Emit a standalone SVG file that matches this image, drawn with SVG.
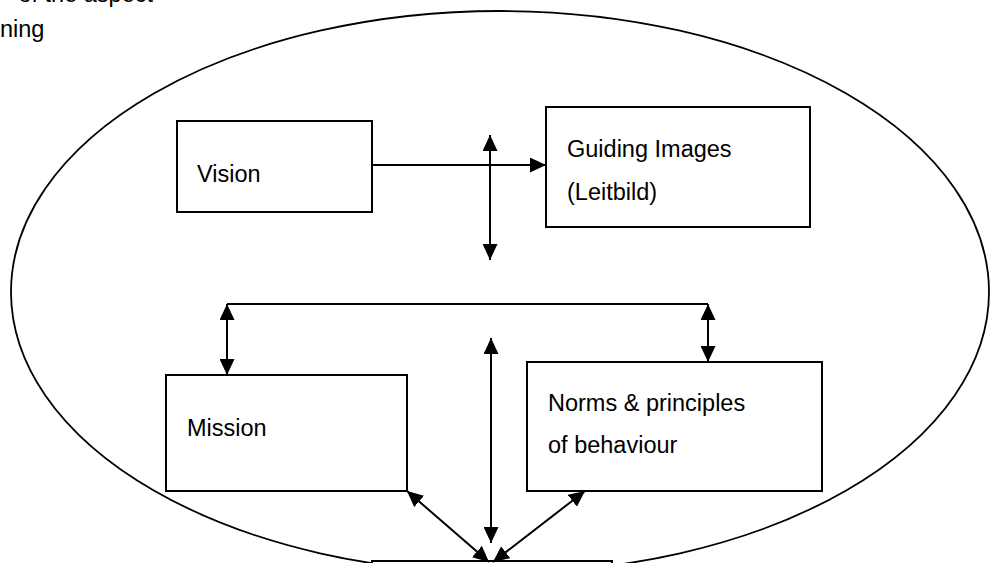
<svg xmlns="http://www.w3.org/2000/svg" width="990" height="563" viewBox="0 0 990 563">
  <defs>
    <style>
      .box { fill: #ffffff; stroke: #000000; stroke-width: 2; }
      .lbl { font-family: "Liberation Sans", Arial, sans-serif; font-size: 23.5px; fill: #000000; }
      .con { fill: none; stroke: #000000; stroke-width: 2; }
    </style>
    <marker id="ah" viewBox="0 0 16 15" refX="16" refY="7.5" markerWidth="16" markerHeight="15" markerUnits="userSpaceOnUse" orient="auto-start-reverse">
      <path d="M0,0 L16,7.5 L0,15 z" fill="#000000"/>
    </marker>
  </defs>
  <rect width="990" height="563" fill="#ffffff"/>
  <text class="lbl" x="153" y="2" text-anchor="end">of the aspect</text>
  <text class="lbl" x="0" y="37">ning</text>
  <ellipse cx="500" cy="292" rx="489" ry="281" fill="none" stroke="#000000" stroke-width="1.8"/>

  <g id="vision">
    <rect class="box" x="177" y="121" width="195" height="91"/>
    <text class="lbl" x="197" y="182">Vision</text>
  </g>
  <g id="guiding-images">
    <rect class="box" x="546" y="107" width="264" height="120"/>
    <text class="lbl" x="567" y="157">Guiding Images</text>
    <text class="lbl" x="567" y="200">(Leitbild)</text>
  </g>
  <g id="mission">
    <rect class="box" x="166" y="375" width="241" height="116"/>
    <text class="lbl" x="187" y="436">Mission</text>
  </g>
  <g id="norms">
    <rect class="box" x="527" y="362" width="295" height="129"/>
    <text class="lbl" x="548" y="411">Norms &amp; principles</text>
    <text class="lbl" x="548" y="453">of behaviour</text>
  </g>
  <g id="bottom-box">
    <rect class="box" x="372" y="561" width="240" height="60"/>
  </g>

  <g id="connectors">
    <path class="con" d="M372,165 H546" marker-end="url(#ah)"/>
    <path class="con" d="M490,135 V260" marker-start="url(#ah)" marker-end="url(#ah)"/>
    <path class="con" d="M227,304 H708"/>
    <path class="con" d="M227,304 V375" marker-start="url(#ah)" marker-end="url(#ah)"/>
    <path class="con" d="M708,304 V362" marker-start="url(#ah)" marker-end="url(#ah)"/>
    <path class="con" d="M491,338 V543" marker-start="url(#ah)" marker-end="url(#ah)"/>
    <path class="con" d="M407,491 L489,562" marker-start="url(#ah)" marker-end="url(#ah)"/>
    <path class="con" d="M493,562 L585,491" marker-start="url(#ah)" marker-end="url(#ah)"/>
  </g>
</svg>
